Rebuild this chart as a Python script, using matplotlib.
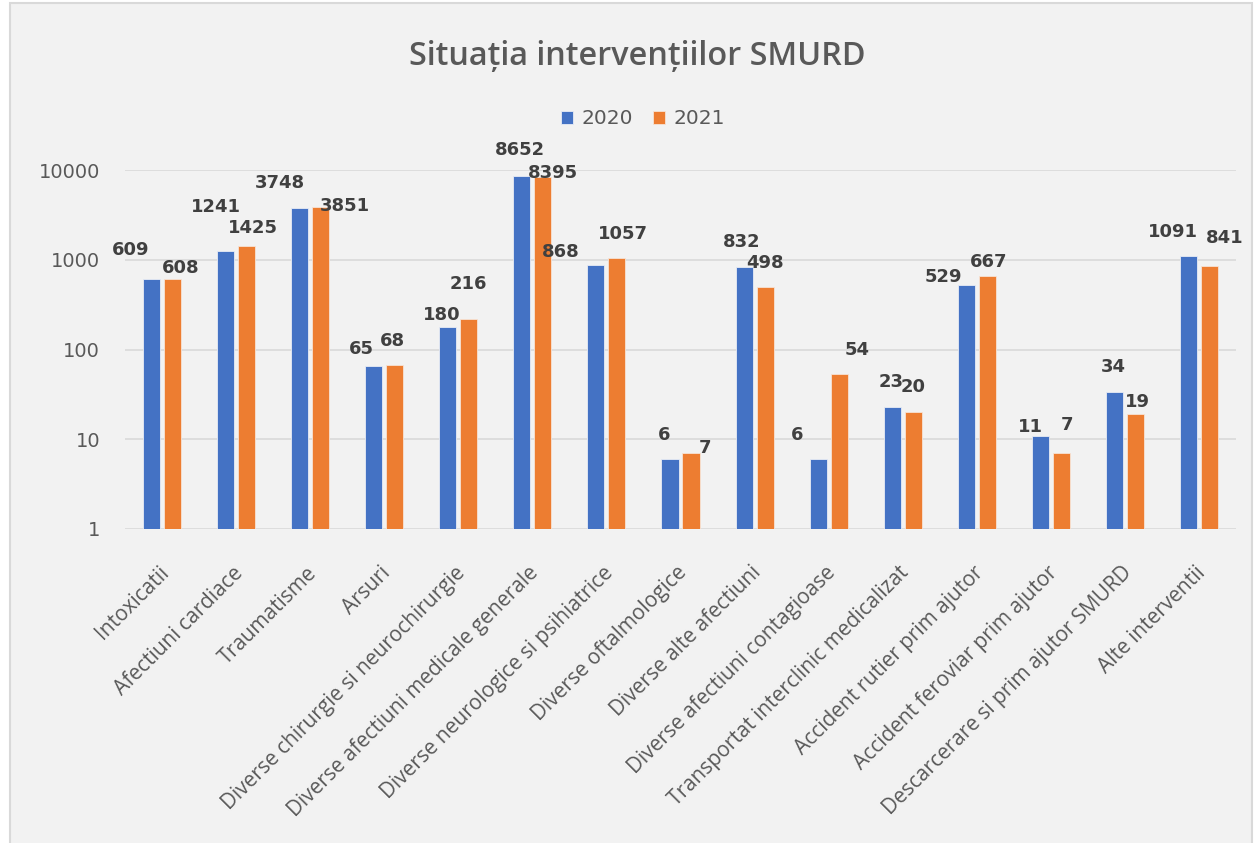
import numpy as np
import matplotlib.pyplot as plt
from matplotlib.patches import Rectangle
from matplotlib.ticker import FixedLocator, NullLocator
import matplotlib.transforms as mtransforms

categories = [
    "Intoxicatii", "Afectiuni cardiace", "Traumatisme", "Arsuri",
    "Diverse chirurgie si neurochirurgie", "Diverse afectiuni medicale generale",
    "Diverse neurologice si psihiatrice", "Diverse oftalmologice",
    "Diverse alte afectiuni", "Diverse afectiuni contagioase",
    "Transportat interclinic medicalizat", "Accident rutier prim ajutor",
    "Accident feroviar prim ajutor", "Descarcerare si prim ajutor SMURD",
    "Alte interventii",
]
values_2020 = [609, 1241, 3748, 65, 180, 8652, 868, 6, 832, 6, 23, 529, 11, 34, 1091]
values_2021 = [608, 1425, 3851, 68, 216, 8395, 1057, 7, 498, 54, 20, 667, 7, 19, 841]
years = ["2020", "2021"]
y_ticks = [1, 10, 100, 1000, 10000]

# label offsets from bar top (pixels), to mimic the hand-placed Excel labels
off_2020 = [(-21, -29), (-10, -44), (-20, -25), (-12, -17), (-6, -12), (-2, -26),
            (-35, -13), (-6, -24), (-2, -25), (-21, -24), (-1, -25), (-23, -8),
            (-10, -9), (-1, -25), (-16, -24)]
off_2021 = [(8, -11), (6, -18), (24, -1), (-2, -24), (0, -35), (10, -4),
            (6, -24), (14, -5), (0, -24), (18, -24), (0, -25), (1, -14),
            (6, -28), (2, -12), (15, -28)]

blue = "#4472C4"
orange = "#ED7D31"
grey_text = "#595959"

fig = plt.figure(figsize=(12.58, 8.43), dpi=100, facecolor="white")
fig.patches.append(Rectangle((10 / 1258, -0.01), 1242 / 1258, 1 - 3 / 843 + 0.01,
                             transform=fig.transFigure, facecolor="#F2F2F2",
                             edgecolor="#D9D9D9", linewidth=1.5, zorder=-10))

ax = fig.add_axes([125 / 1258, 1 - 529 / 843, 1111 / 1258, 359 / 843])
ax.set_facecolor("none")

x = np.arange(len(categories))
w = 0.23
shift = 0.142
b1 = ax.bar(x - shift, values_2020, w, color=blue, edgecolor="#e8ecf5", linewidth=0.6,
            label=years[0], zorder=3)
b2 = ax.bar(x + shift, values_2021, w, color=orange, edgecolor="#f7e3d5", linewidth=0.6,
            label=years[1], zorder=3)

ax.set_yscale("log")
ax.set_ylim(1, 10000)
ax.set_xlim(-0.5, len(categories) - 0.5)
ax.yaxis.set_major_locator(FixedLocator(y_ticks))
ax.yaxis.set_minor_locator(NullLocator())
ax.set_yticklabels([str(t) for t in y_ticks], fontsize=14, color=grey_text,
                   family="DejaVu Sans")
ax.tick_params(axis="y", length=0, pad=18)
ax.grid(axis="y", color="#D9D9D9", linewidth=1.2, zorder=0)
for s in ax.spines.values():
    s.set_visible(False)

ax.set_xticks(x)
ax.set_xticklabels(categories, fontsize=15, color=grey_text, family="Open Sans",
                   rotation=45, ha="right", va="top", rotation_mode="anchor")
ax.tick_params(axis="x", length=0, pad=24)
nudge = mtransforms.ScaledTranslation(-4 / 100, 0, fig.dpi_scale_trans)
for lab in ax.get_xticklabels():
    lab.set_transform(lab.get_transform() + nudge)

px = 0.72
for bars, vals, offs in [(b1, values_2020, off_2020), (b2, values_2021, off_2021)]:
    for bar, v, (dx, dy) in zip(bars, vals, offs):
        ax.annotate(str(v), (bar.get_x() + bar.get_width() / 2, v),
                    xytext=(dx * px, -dy * px), textcoords="offset points",
                    ha="center", va="center", fontsize=13, fontweight="bold",
                    color="#404040", family="DejaVu Sans", zorder=5)

fig.text(637 / 1258, 1 - 57 / 843, "Situația intervențiilor SMURD", ha="center",
         va="center", fontsize=23.3, fontweight="semibold", color=grey_text,
         family="Open Sans")

leg = fig.legend(handles=[b1, b2], labels=years, loc="center",
                 bbox_to_anchor=(643 / 1258, 1 - 119 / 843), ncol=2, frameon=False,
                 fontsize=14.5, handlelength=0.6, handleheight=0.6,
                 columnspacing=1.0, handletextpad=0.4)
for t in leg.get_texts():
    t.set_color(grey_text)

fig.savefig("out.png", dpi=100, facecolor=fig.get_facecolor())
